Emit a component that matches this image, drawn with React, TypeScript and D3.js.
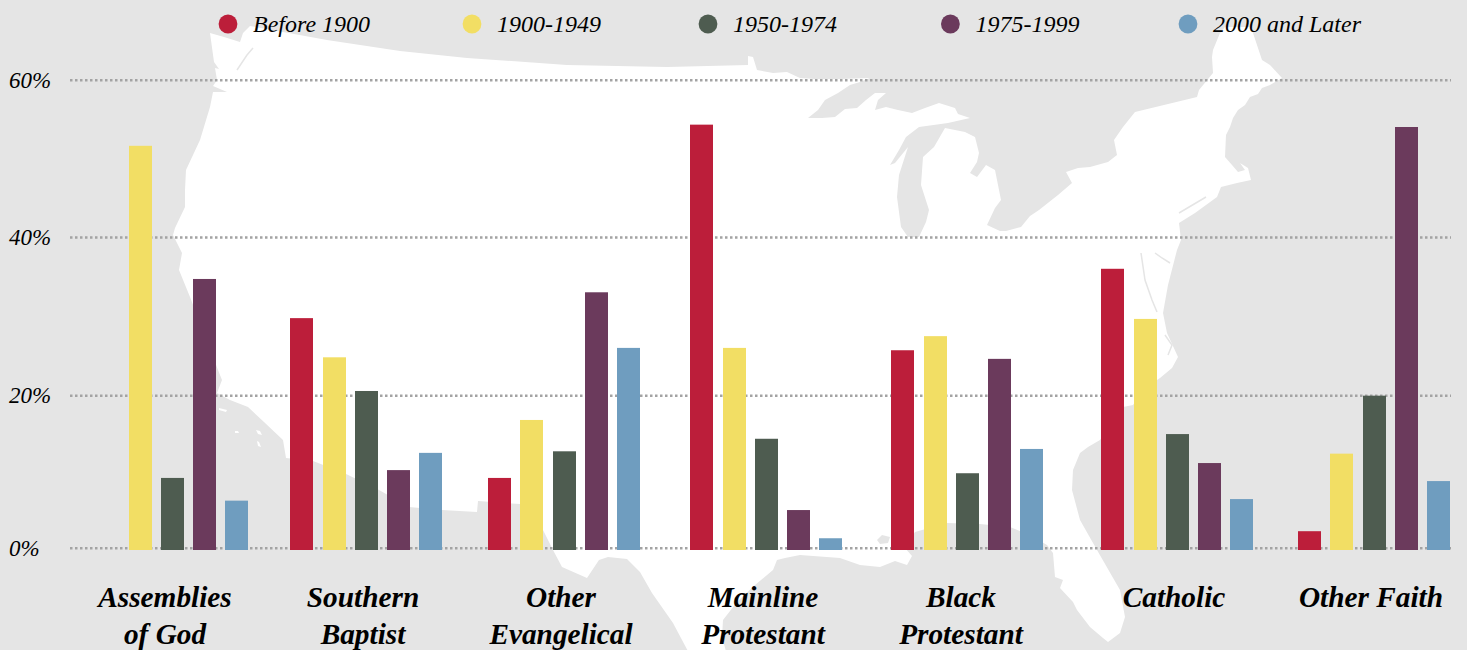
import React from 'react';
import * as d3 from 'd3';

const categories = [
  ['Assemblies', 'of God'],
  ['Southern', 'Baptist'],
  ['Other', 'Evangelical'],
  ['Mainline', 'Protestant'],
  ['Black', 'Protestant'],
  ['Catholic'],
  ['Other Faith'],
];
const series = ['Before 1900', '1900-1949', '1950-1974', '1975-1999', '2000 and Later'];
const colors = ['#bc1e3a', '#f2de64', '#4e5c50', '#6b3a5c', '#6f9dbf'];

const before1900 = [0, 29.6, 9.2, 54.3, 25.5, 35.9, 2.4];
const from1900 = [51.6, 24.6, 16.6, 25.8, 27.3, 29.5, 12.3];
const from1950 = [9.2, 20.3, 12.6, 14.2, 9.8, 14.8, 19.7];
const from1975 = [34.6, 10.2, 32.9, 5.1, 24.4, 11.1, 54];
const from2000 = [6.3, 12.4, 25.8, 1.5, 12.9, 6.5, 8.8];
const seriesValues = [before1900, from1900, from1950, from1975, from2000];

const yTicks = [0, 20, 40, 60];

// backdrop only in page pixels
const usOutline: [number, number][] = [
  [210, 33], [224, 37], [240, 42], [243, 33], [250, 26], [283, 32], [327, 40], [400, 51], [467, 58], [567, 65],
  [667, 67], [748, 65], [748, 56], [753, 57], [757, 70], [773, 73], [787, 72], [800, 78], [815, 79], [840, 79],
  [870, 78], [860, 82], [850, 85], [838, 93], [825, 100], [818, 110], [808, 118], [822, 118], [835, 117], [845, 109],
  [857, 108], [866, 100], [875, 93], [886, 93], [878, 100], [875, 110], [886, 107], [898, 110], [912, 113], [925, 108],
  [939, 103], [955, 108], [958, 114], [970, 118], [948, 123], [919, 127], [906, 137], [899, 150], [890, 165], [895, 163],
  [908, 147], [899, 175], [897, 197], [901, 227], [908, 237], [919, 237], [926, 222], [929, 210], [921, 185], [923, 157],
  [934, 147], [945, 128], [965, 132], [975, 137], [979, 153], [977, 162], [970, 173], [977, 177], [986, 165], [995, 170],
  [1001, 200], [995, 208], [987, 225], [1000, 231], [1006, 231], [1021, 227], [1030, 216], [1039, 210], [1058, 195],
  [1072, 183], [1066, 172], [1078, 168], [1090, 167], [1108, 162], [1117, 155], [1114, 140], [1123, 127], [1135, 112],
  [1197, 97], [1199, 90], [1213, 73], [1212, 57], [1213, 50], [1220, 33], [1225, 27], [1250, 27], [1253, 33], [1262, 60],
  [1270, 65], [1282, 78], [1270, 85], [1262, 88], [1258, 94], [1250, 97], [1245, 105], [1238, 110], [1233, 118],
  [1230, 127], [1226, 135], [1225, 157], [1232, 165], [1238, 172], [1245, 170], [1240, 163], [1248, 168], [1251, 180],
  [1237, 183], [1221, 187], [1217, 197], [1195, 213], [1179, 223], [1181, 240], [1177, 250], [1168, 285], [1163, 313],
  [1167, 333], [1178, 357], [1172, 368], [1160, 378], [1145, 388], [1133, 405], [1123, 407], [1100, 440], [1088, 447],
  [1080, 453], [1073, 470], [1072, 490], [1080, 520], [1097, 550], [1120, 590], [1125, 617], [1120, 633], [1108, 642],
  [1103, 638], [1090, 627], [1077, 610], [1073, 602], [1060, 588], [1063, 580], [1055, 577], [1053, 553], [1047, 545],
  [1030, 535], [1010, 527], [980, 524], [947, 523], [915, 532], [905, 548], [912, 556], [907, 565], [895, 561], [880, 567],
  [860, 565], [840, 558], [800, 555], [785, 558], [777, 560], [773, 570], [755, 585], [737, 602], [723, 620], [722, 637],
  [727, 655], [690, 655], [673, 623], [652, 593], [640, 572], [627, 559], [608, 557], [599, 560], [587, 578], [562, 567],
  [553, 550], [543, 530], [530, 512], [520, 504], [478, 501], [477, 512], [442, 510], [409, 507], [379, 490], [344, 473],
  [313, 461], [286, 458], [283, 440], [264, 422], [248, 407], [230, 400], [217, 393], [222, 380], [218, 370], [190, 297],
  [179, 270], [182, 253], [173, 235], [175, 228], [185, 207], [185, 190], [186, 170], [200, 140], [210, 107], [213, 92],
  [227, 92], [213, 86], [217, 80], [215, 68], [219, 69], [214, 62],
];
const lakePontchartrain: [number, number][] = [[877, 540], [882, 535], [890, 537], [888, 543], [880, 544]];
const channelIslands: [number, number][][] = [
  [[219, 408], [227, 410], [226, 412], [219, 410]],
  [[235, 431], [238, 431], [239, 433], [235, 433]],
  [[256, 430], [260, 431], [262, 435], [258, 434]],
  [[257, 441], [259, 442], [261, 447], [258, 446]],
];
const waterLines: [number, number][][] = [
  [[1141, 253], [1145, 280], [1152, 300], [1157, 312]],
  [[1155, 253], [1162, 258], [1170, 263]],
  [[1179, 213], [1206, 197]],
  [[237, 70], [247, 55], [253, 48]],
  [[1165, 335], [1172, 345], [1168, 355]],
];

const WIDTH = 1467;
const HEIGHT = 650;
const FONT = '"Liberation Serif", "Times New Roman", serif';

export default function App() {
  const catIndex = d3.range(categories.length);
  const x0 = d3.scaleOrdinal<number, number>().domain(catIndex).range([96.4, 290.4, 488.2, 690.4, 891.4, 1101.4, 1298.2]);
  const x1 = d3.scaleBand<number>().domain(d3.range(series.length)).range([0, 152]).paddingInner(0.287);
  const y = d3.scaleLinear().domain([0, 60]).range([550, 80]);
  // the gridlines in the source don't sit quite on the bar scale
  const gridY = d3.scaleLinear().domain(yTicks).range([548.3, 395.7, 237.5, 80.3]);
  const labelX = d3.scaleOrdinal<number, number>().domain(catIndex).range([165, 363, 561, 763, 961, 1174, 1371]);
  const legendX = d3.scaleOrdinal<number, number>().domain(d3.range(series.length)).range([228, 472, 708, 950.4, 1188]);

  const line = d3.line();

  return (
    <svg
      width={WIDTH}
      height={HEIGHT}
      viewBox={`0 0 ${WIDTH} ${HEIGHT}`}
      style={{ position: 'absolute', left: 0, top: 0, background: '#e5e5e5' }}
      fontFamily={FONT}
    >
      <path d={line(usOutline) + 'Z'} fill="#fff" />
      <path d={line(lakePontchartrain) + 'Z'} fill="#e5e5e5" />
      {channelIslands.map((p, i) => (
        <path key={i} d={line(p) + 'Z'} fill="#fff" />
      ))}
      {waterLines.map((w, i) => (
        <path key={i} d={line(w) ?? ''} fill="none" stroke="#e5e5e5" strokeWidth={1.5} />
      ))}

      {yTicks.map((t) => (
        <g key={t}>
          <line
            x1={70}
            x2={1451}
            y1={gridY(t)}
            y2={gridY(t)}
            stroke="#a3a3a3"
            strokeWidth={2.5}
            strokeDasharray="2.5 2.5"
          />
          <text x={9} y={gridY(t)} dy="0.33em" fontSize={23} fontStyle="italic" fill="#000">
            {t}%
          </text>
        </g>
      ))}

      {seriesValues.map((vals, s) => (
        <g key={s} fill={colors[s]}>
          {vals.map((v, c) =>
            v > 0 ? (
              <rect
                key={c}
                x={Math.round(x0(c) + (x1(s) ?? 0))}
                y={y(v)}
                width={x1.bandwidth()}
                height={y(0) - y(v)}
              />
            ) : null,
          )}
        </g>
      ))}

      {series.map((name, s) => (
        <g key={name}>
          <circle cx={legendX(s)} cy={24} r={9.4} fill={colors[s]} />
          <text x={legendX(s) + 25} y={24} dy="0.33em" fontSize={24} fontStyle="italic" fill="#000">
            {name}
          </text>
        </g>
      ))}

      {categories.map((lines, c) => (
        <text
          key={c}
          textAnchor="middle"
          fontSize={29.3}
          fontStyle="italic"
          fontWeight="bold"
          fill="#000"
        >
          {lines.map((l, i) => (
            <tspan key={l} x={labelX(c)} y={607 + i * 36.5}>
              {l}
            </tspan>
          ))}
        </text>
      ))}
    </svg>
  );
}
